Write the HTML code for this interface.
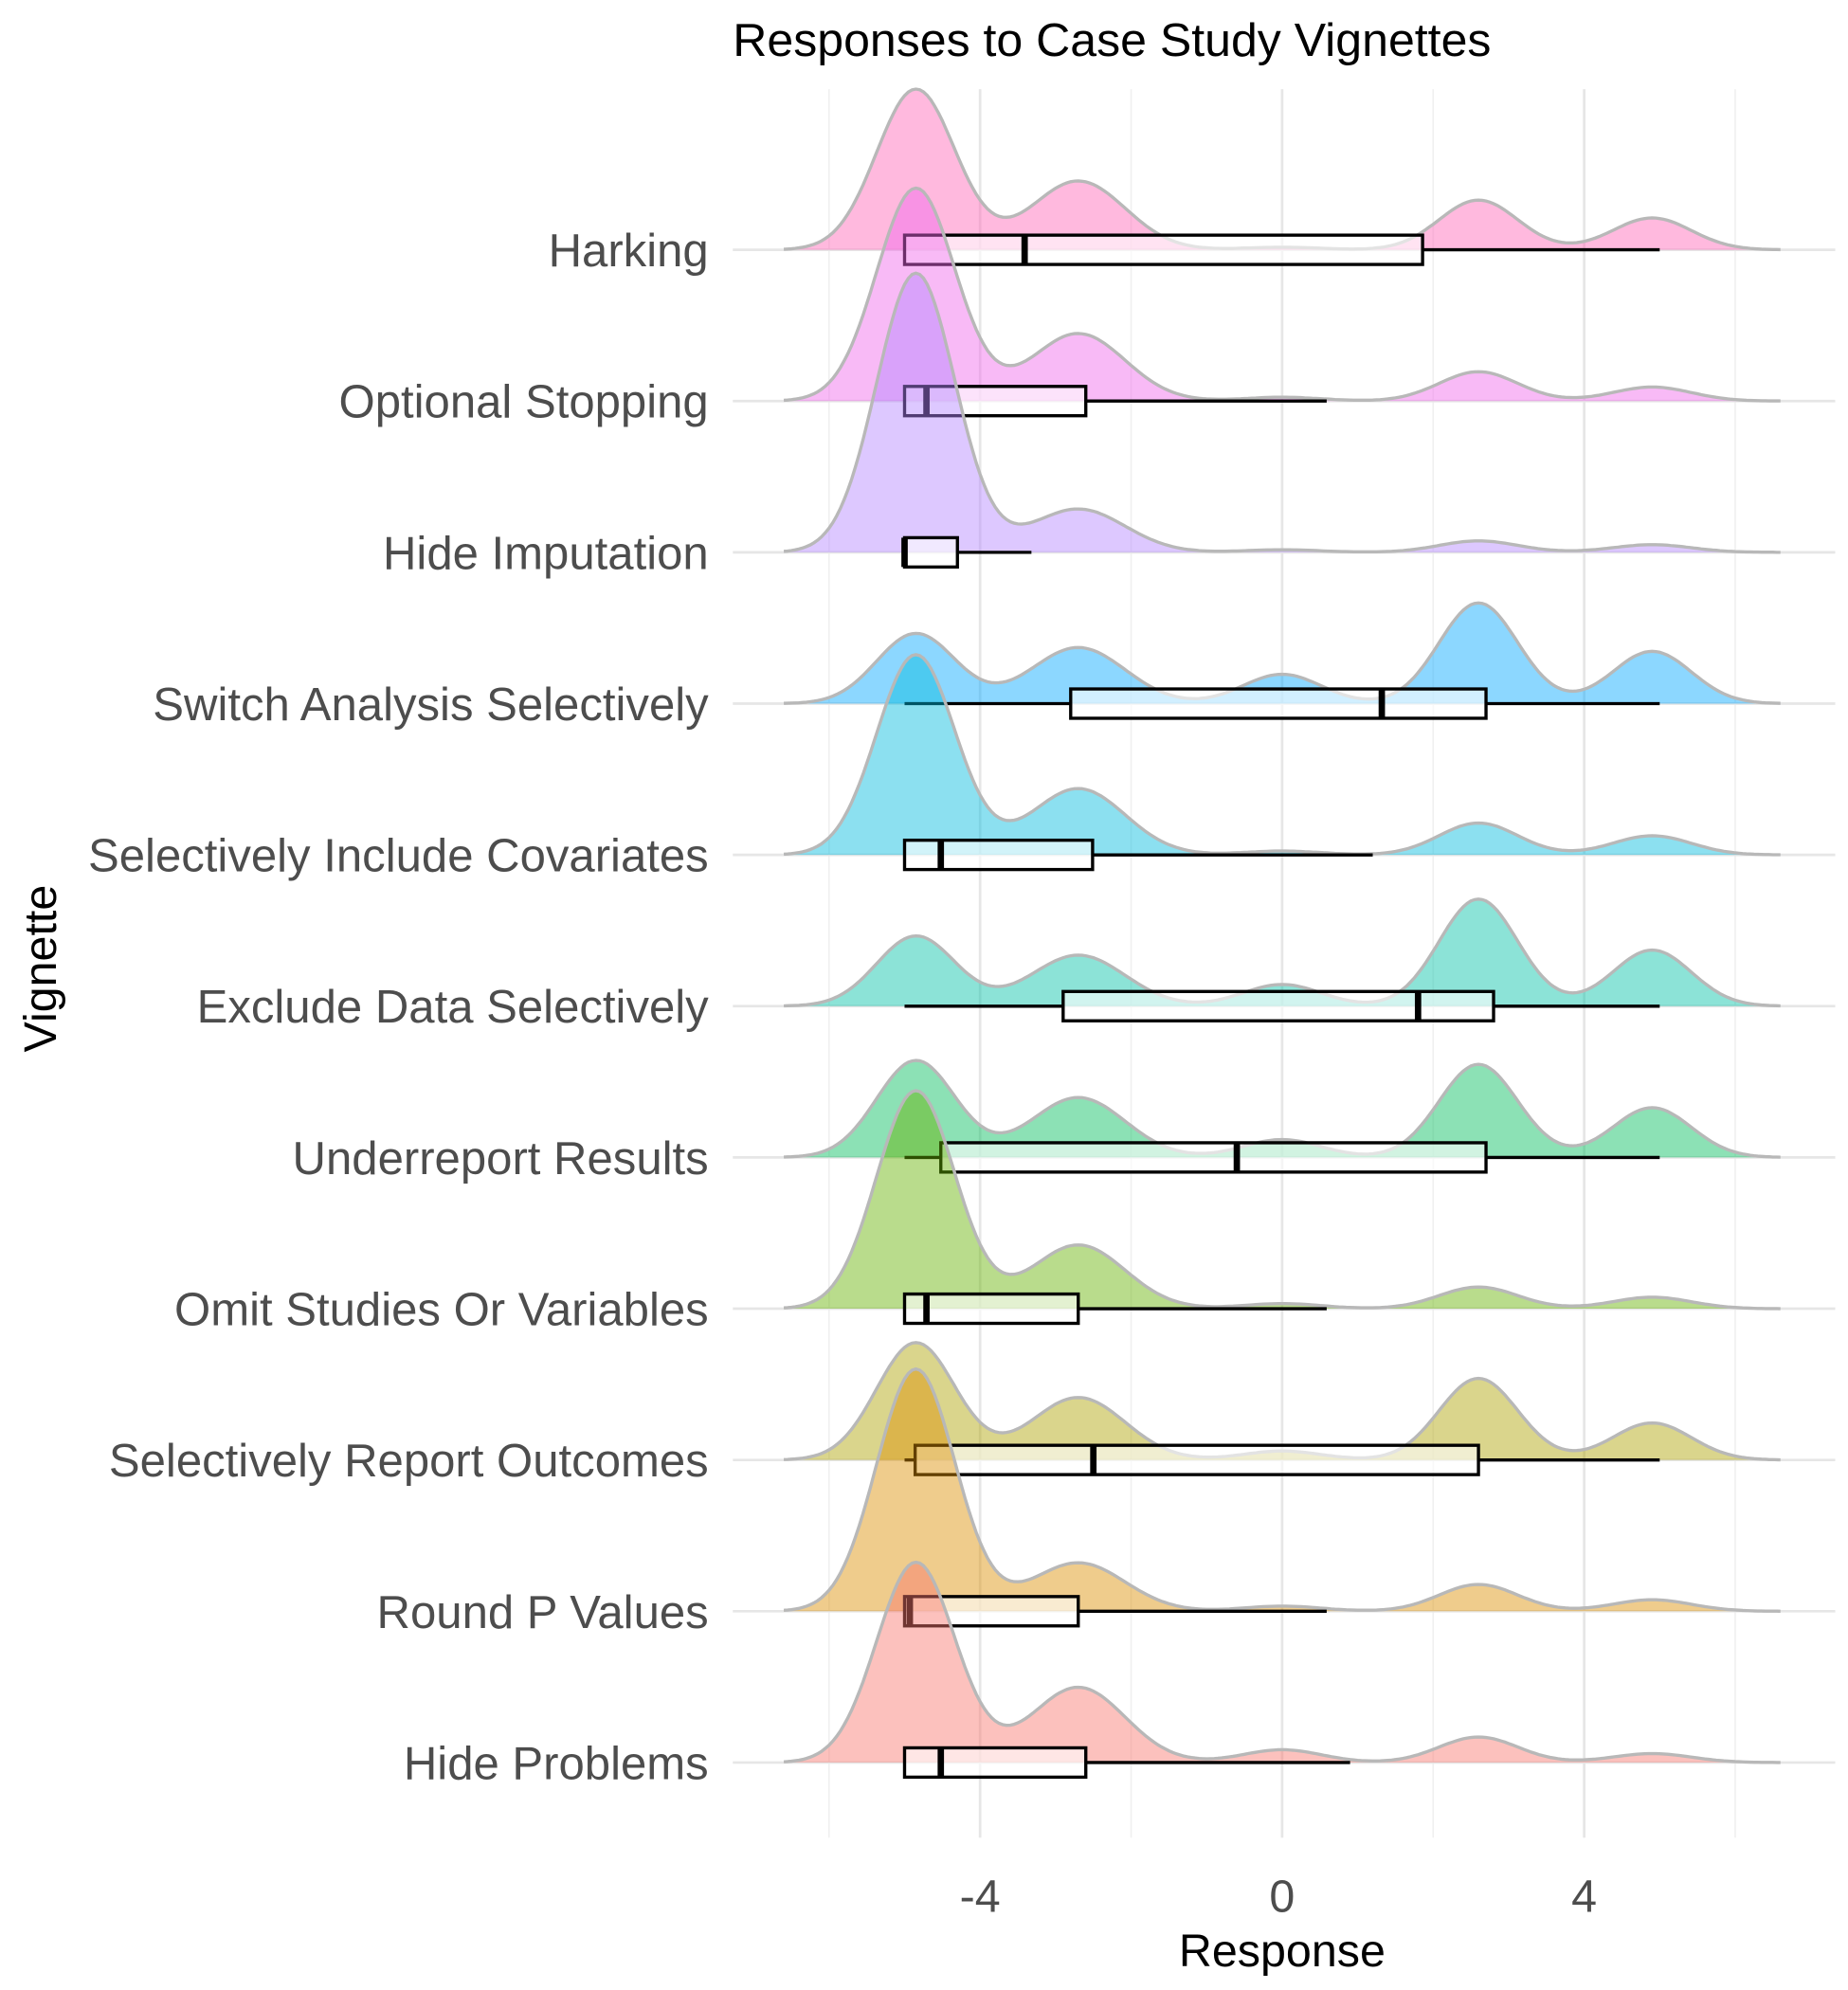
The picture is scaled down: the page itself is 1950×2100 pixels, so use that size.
<!DOCTYPE html>
<html><head><meta charset="utf-8"><style>
html,body{margin:0;padding:0;background:#fff;}
svg{display:block;}
text{font-family:"Liberation Sans",Arial,sans-serif;}
</style></head><body>
<svg id="chart" width="1950" height="2100" viewBox="0 0 1450 1561.5" xmlns="http://www.w3.org/2000/svg">
<g id="grid"></g>
<g id="ridges"></g>
<g id="ylabels"></g>
<g id="xlabels"></g>
<text x="575" y="44" font-size="36.5" fill="#000" textLength="595" lengthAdjust="spacingAndGlyphs">Responses to Case Study Vignettes</text>
<text x="1006" y="1543" font-size="36" fill="#000" text-anchor="middle">Response</text>
<text x="0" y="0" font-size="36" fill="#000" text-anchor="middle" transform="translate(44,760) rotate(-90)">Vignette</text>
</svg>
<script>
// data (bottom to top)
const categories = ["Hide Problems","Round P Values","Selectively Report Outcomes","Omit Studies Or Variables","Underreport Results","Exclude Data Selectively","Selectively Include Covariates","Switch Analysis Selectively","Hide Imputation","Optional Stopping","Harking"];
const colors = ["#F8766D","#DB8E00","#AEA200","#64B200","#00BD5C","#00C1A7","#00BADE","#00A6FF","#B385FF","#EF67EB","#FF63B6"];
const modeCenters = [-4.85,-2.7,0,2.6,4.9];
// relative density heights at each mode
const modeHeights = [
 [1.57,0.59,0.10,0.20,0.07],
 [1.90,0.38,0.04,0.21,0.09],
 [0.92,0.49,0.07,0.64,0.29],
 [1.71,0.50,0.04,0.17,0.09],
 [0.76,0.47,0.14,0.73,0.39],
 [0.55,0.40,0.17,0.84,0.44],
 [1.57,0.52,0.03,0.25,0.15],
 [0.55,0.44,0.23,0.79,0.41],
 [2.19,0.34,0.02,0.09,0.06],
 [1.67,0.53,0.03,0.23,0.11],
 [1.26,0.54,0.02,0.39,0.25]
];
const whiskerLow  = [-5,-5,-5,-5,-5,-5,-5,-5,-5,-5,-5];
const boxLow      = [-5,-5,-4.86,-5,-4.52,-2.9,-5,-2.8,-5,-5,-5];
const medians     = [-4.52,-4.93,-2.5,-4.71,-0.6,1.8,-4.52,1.32,-5,-4.71,-3.41];
const boxHigh     = [-2.6,-2.7,2.6,-2.7,2.7,2.8,-2.51,2.7,-4.3,-2.6,1.86];
const whiskerHigh = [0.9,0.59,5,0.59,5,5,1.2,5,-3.32,0.59,5];
const xTicks = [-4,0,4];
const xTickLabels = ["-4","0","4"];
const xMinor = [-6,-2,2,6];

const NS="http://www.w3.org/2000/svg";
const X=v=>1006+v*59.25;
const rowY=i=>1383-i*118.7;
const H=d=>d*100;
function mk(tag,attrs,parent){const e=document.createElementNS(NS,tag);for(const k in attrs)e.setAttribute(k,attrs[k]);parent.appendChild(e);return e;}
const grid=document.getElementById('grid'),ridges=document.getElementById('ridges'),yl=document.getElementById('ylabels'),xl=document.getElementById('xlabels');
xMinor.forEach(v=>{
 const l=mk('line',{x1:X(v),x2:X(v),y1:70,y2:1442,stroke:'#f0f0f0','stroke-width':1.2},grid);
 
 
});
xTicks.forEach((v,i)=>{
 const l=mk('line',{x1:X(v),x2:X(v),y1:70,y2:1442,stroke:'#e6e6e6','stroke-width':2},grid);
 
 
 const t=mk('text',{x:X(v),y:1500,'font-size':36,fill:'#4d4d4d','text-anchor':'middle'},xl);
 t.textContent=xTickLabels[i];
 
 
});
categories.forEach((c,i)=>{
 const l=mk('line',{x1:575,x2:1440,y1:rowY(i),y2:rowY(i),stroke:'#e6e6e6','stroke-width':2},grid);
 
 
 const t=mk('text',{x:556,y:rowY(i)+13,'font-size':36.5,fill:'#4d4d4d','text-anchor':'end'},yl);
 t.textContent=c;
 
 
});
function dens(i,x){let s=0;modeHeights[i].forEach((h,k)=>{const sg=k===1?0.62:0.52;s+=h*Math.exp(-Math.pow(x-modeCenters[k],2)/(2*sg*sg));});return s;}
for(let i=categories.length-1;i>=0;i--){
 const g=mk('g',{},ridges);
 
 
 const y0=rowY(i);let pts=[];
 for(let x=-6.6;x<=6.6001;x+=0.05)pts.push(X(x).toFixed(1)+','+(y0-H(dens(i,x))).toFixed(1));
 const area=mk('path',{d:'M'+X(-6.6)+','+y0+' L'+pts.join(' L')+' L'+X(6.6)+','+y0+' Z',fill:colors[i],'fill-opacity':0.45},g);
 
 
 const line=mk('path',{d:'M'+pts.join(' L'),fill:'none',stroke:'#b8b8b8','stroke-width':2.5},g);
 
 
 const wl=mk('line',{x1:X(whiskerLow[i]),x2:X(boxLow[i]),y1:y0,y2:y0,stroke:'#000','stroke-width':2.5},g);
 
 
 const wh=mk('line',{x1:X(boxHigh[i]),x2:X(whiskerHigh[i]),y1:y0,y2:y0,stroke:'#000','stroke-width':2.5},g);
 
 
 const b=mk('rect',{x:X(boxLow[i]),y:y0-11.5,width:X(boxHigh[i])-X(boxLow[i]),height:23,fill:'#fff','fill-opacity':0.6,stroke:'#000','stroke-width':2.5},g);
 
 
 const m=mk('line',{x1:X(medians[i]),x2:X(medians[i]),y1:y0-11.5,y2:y0+11.5,stroke:'#000','stroke-width':5},g);
 
 
}
</script>
</body></html>
